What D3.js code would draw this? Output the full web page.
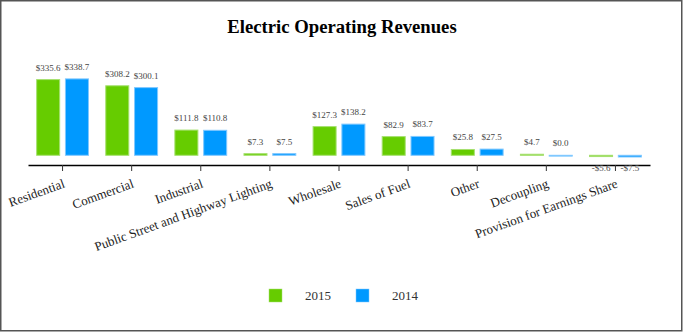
<!DOCTYPE html>
<html>
<head>
<meta charset="utf-8">
<script src="https://cdn.jsdelivr.net/npm/d3@7"></script>
<style>
  body { margin: 0; background: #fff; }
  text { font-family: "Liberation Serif", "Times New Roman", serif; }
</style>
</head>
<body>
<div id="svganchor"></div>
<script>
let width = 684, height = 333;

let categories = ["Residential", "Commercial", "Industrial", "Public Street and Highway Lighting",
    "Wholesale", "Sales of Fuel", "Other", "Decoupling", "Provision for Earnings Share"];
let years = ["2015", "2014"];
let values2015 = [335.6, 308.2, 111.8, 7.3, 127.3, 82.9, 25.8, 4.7, -5.6];
let values2014 = [338.7, 300.1, 110.8, 7.5, 138.2, 83.7, 27.5, 0.0, -7.5];

let colors = {"2015": "#66cc00", "2014": "#0099ff"};
let strokes = {"2015": "#a6e070", "2014": "#80c8ff"};

let formatMoney = function(v) {
    return (v < 0 ? "-$" : "$") + Math.abs(v).toFixed(1);
};

let data = categories.map(function(c, i) {
    return {category: c, values: [
        {year: "2015", value: values2015[i]},
        {year: "2014", value: values2014[i]}
    ]};
});

let svg = d3.select("#svganchor")
    .append("svg")
    .attr("width", width)
    .attr("height", height);

// frame
svg.append("rect")
    .attr("x", 0.75)
    .attr("y", 0.75)
    .attr("width", 681)
    .attr("height", 330)
    .attr("fill", "#fff")
    .attr("stroke", "#555")
    .attr("stroke-width", 1.5);

svg.append("text")
    .attr("x", 342)
    .attr("y", 33)
    .attr("text-anchor", "middle")
    .style("font-size", "18.7px")
    .style("font-weight", "bold")
    .attr("fill", "#000")
    .text("Electric Operating Revenues");

let x0 = d3.scaleBand()
    .domain(categories)
    .range([28, 650])
    .paddingInner(0.25)
    .paddingOuter(0.125);

let x1 = d3.scaleBand()
    .domain(years)
    .range([0, x0.bandwidth()])
    .paddingInner(0.2);

let y = d3.scaleLinear()
    .domain([-10, 350])
    .range([157.56, 76.34]);

let xAxis = d3.axisBottom(x0)
    .tickSizeInner(6)
    .tickSizeOuter(0);

let gX = svg.append("g")
    .attr("class", "x axis")
    .attr("transform", "translate(0,165)")
    .call(xAxis);

gX.select(".domain")
    .attr("stroke", "#000")
    .attr("stroke-width", 1.5);

gX.selectAll(".tick line")
    .attr("stroke", "#333");

gX.selectAll(".tick text")
    .attr("y", 0)
    .attr("dy", 0)
    .attr("transform", "translate(3,22) rotate(-20)")
    .style("text-anchor", "end")
    .style("font-family", "'Liberation Serif', serif")
    .style("font-size", "13px")
    .attr("fill", "#222");

let groups = svg.selectAll(".group")
    .data(data)
    .enter()
    .append("g")
    .attr("class", "group")
    .attr("transform", function(d) { return "translate(" + x0(d.category) + ",0)"; });

// zero-height bars still show a hairline, as in the original
groups.selectAll("rect")
    .data(function(d) { return d.values; })
    .enter()
    .append("rect")
    .attr("x", function(d) { return x1(d.year); })
    .attr("y", function(d) { return y(Math.max(0, d.value)); })
    .attr("width", x1.bandwidth())
    .attr("height", function(d) { return Math.max(0.8, Math.abs(y(d.value) - y(0))); })
    .attr("fill", function(d) { return colors[d.year]; })
    .attr("stroke", function(d) { return strokes[d.year]; })
    .attr("stroke-width", 1);

groups.selectAll(".valueLabel")
    .data(function(d) { return d.values; })
    .enter()
    .append("text")
    .attr("class", "valueLabel")
    .attr("x", function(d) { return x1(d.year) + x1.bandwidth() / 2; })
    .attr("y", function(d) { return d.value >= 0 ? y(d.value) - 9 : y(d.value) + 14; })
    .attr("text-anchor", "middle")
    .style("font-size", "9px")
    .attr("fill", "#444")
    .text(function(d) { return formatMoney(d.value); });

// legend
let legend = svg.selectAll(".legend")
    .data(years)
    .enter()
    .append("g")
    .attr("class", "legend")
    .attr("transform", function(d, i) { return "translate(" + (269 + i * 87) + ",289)"; });

legend.append("rect")
    .attr("width", 13)
    .attr("height", 13)
    .attr("fill", function(d) { return colors[d]; })
    .attr("stroke", function(d) { return strokes[d]; })
    .attr("stroke-width", 0.5);

legend.append("text")
    .attr("x", 36)
    .attr("y", 11)
    .style("font-size", "13px")
    .attr("fill", "#333")
    .text(function(d) { return d; });
</script>
</body>
</html>
